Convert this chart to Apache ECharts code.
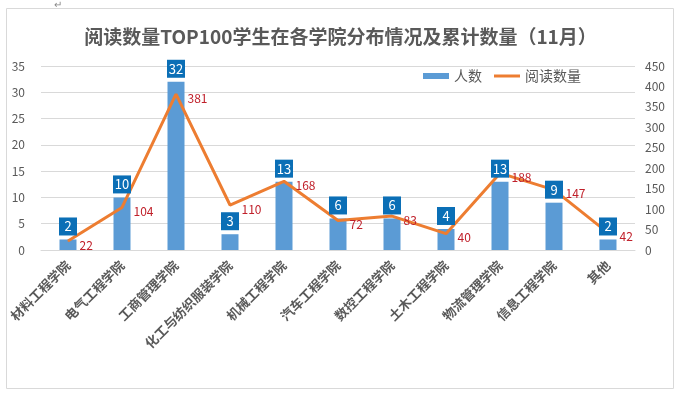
<!DOCTYPE html>
<html>
<head>
<meta charset="utf-8">
<title>阅读数量TOP100</title>
<script src="https://cdn.jsdelivr.net/npm/echarts@6/dist/echarts.min.js"></script>
<style>
html,body{margin:0;padding:0;background:#fff;}
#main{width:681px;height:396px;}
</style>
</head>
<body>
<div id="main"></div>
<script>
// 学院
var colleges = ['材料工程学院','电气工程学院','工商管理学院','化工与纺织服装学院','机械工程学院','汽车工程学院','数控工程学院','土木工程学院','物流管理学院','信息工程学院','其他'];
// 人数
var people = [2, 10, 32, 3, 13, 6, 6, 4, 13, 9, 2];
// 阅读数量
var reads = [22, 104, 381, 110, 168, 72, 83, 40, 188, 147, 42];

var chart = echarts.init(document.getElementById('main'));
var font = 'Microsoft YaHei, "Noto Sans CJK SC", sans-serif';

chart.setOption({
    animation: false,
    textStyle: {fontFamily: font},
    title: {
        text: '阅读数量TOP100学生在各学院分布情况及累计数量（11月）',
        left: 'center',
        top: 22,
        textStyle: {fontSize: 19, fontWeight: 'bold', color: '#595959', fontFamily: font}
    },
    graphic: [
        {type: 'rect', shape: {x: 6.5, y: 8.5, width: 667, height: 380},
         style: {fill: 'none', stroke: '#d9d9d9', lineWidth: 1}, silent: true},
        {type: 'text', left: 54, top: 0, style: {text: '↵', fill: '#888', fontSize: 10}}
    ],
    legend: {
        top: 64,
        left: 418,
        itemWidth: 26,
        itemHeight: 6,
        itemGap: 12,
        textStyle: {fontSize: 14, color: '#595959'},
        data: [
            {name: '人数', icon: 'rect'},
            {name: '阅读数量', icon: 'path://M0,0 L26,0 L26,3 L0,3 Z'}
        ]
    },
    grid: {left: 41, right: 46, top: 66, bottom: 146, containLabel: false},
    xAxis: {
        type: 'category',
        data: colleges,
        axisLine: {lineStyle: {color: '#d9d9d9'}},
        axisTick: {show: false},
        axisLabel: {
            interval: 0, rotate: 45, margin: 13,
            fontSize: 13, fontWeight: 'bold', color: '#595959'
        }
    },
    yAxis: [
        {
            type: 'value', min: 0, max: 35, interval: 5,
            axisLine: {show: false}, axisTick: {show: false},
            axisLabel: {color: '#595959', fontSize: 12, margin: 16},
            splitLine: {lineStyle: {color: '#d9d9d9'}}
        },
        {
            type: 'value', min: 0, max: 450, interval: 50,
            axisLine: {show: false}, axisTick: {show: false},
            axisLabel: {color: '#595959', fontSize: 12, margin: 10},
            splitLine: {show: false}
        }
    ],
    series: [
        {
            name: '人数',
            type: 'bar',
            barWidth: 17,
            data: people,
            itemStyle: {color: '#5b9bd5'},
            z: 1
        },
        {
            name: '阅读数量',
            type: 'line',
            yAxisIndex: 1,
            data: reads,
            symbol: 'circle',
            symbolSize: 1,
            showSymbol: true,
            lineStyle: {color: '#ed7d31', width: 3},
            itemStyle: {color: '#ed7d31'},
            z: 2,
            label: {
                show: true, position: 'right', distance: 11,
                color: '#c0202a', fontSize: 12, offset: [0, 4]
            }
        },
        {
            // 人数标签（画在折线上面）
            name: '人数标签',
            type: 'bar',
            barWidth: 17,
            barGap: '-100%',
            data: people,
            itemStyle: {color: 'transparent'},
            silent: true,
            z: 5,
            label: {
                show: true, position: 'top', distance: 4,
                color: '#fff', fontSize: 13,
                backgroundColor: '#0b6fb6',
                padding: [2, 4, 2, 4],
                width: 10, align: 'center', lineHeight: 14
            }
        }
    ]
});
</script>
</body>
</html>
